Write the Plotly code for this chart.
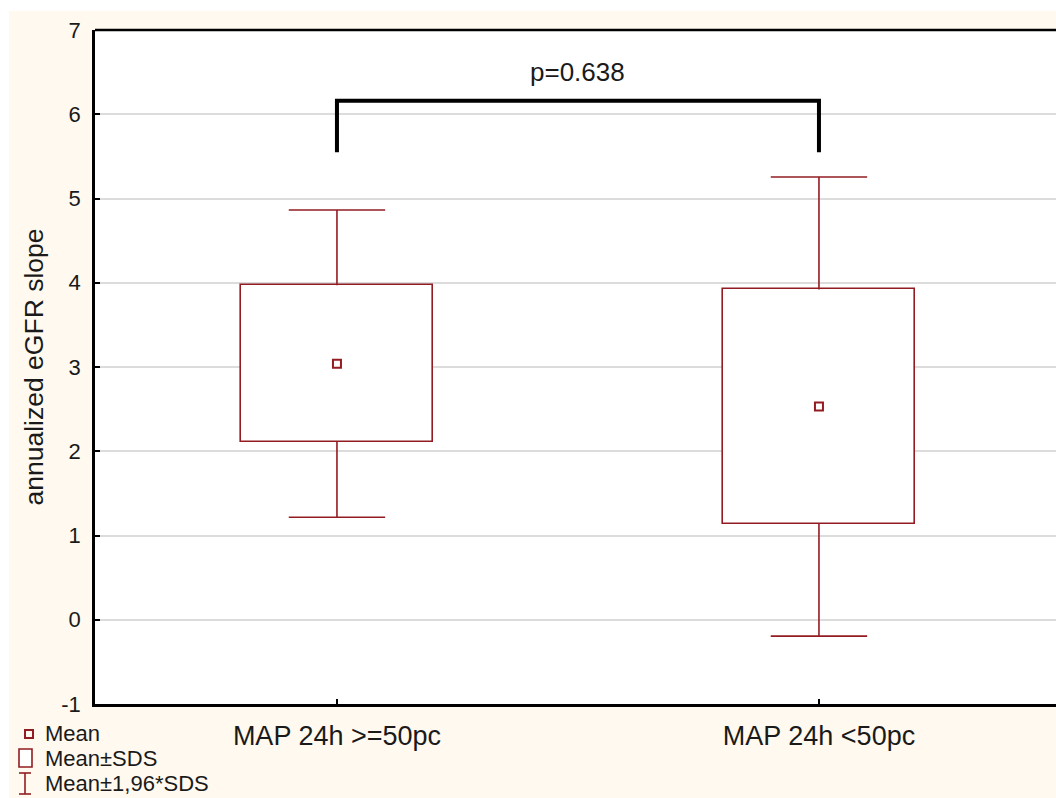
import plotly.graph_objects as go

# ---- data ----
categories = ["MAP 24h >=50pc", "MAP 24h <50pc"]
means = [3.04, 2.53]
sds = [0.93, 1.39]
ci_factor = 1.96
p_text = "p=0.638"
bracket_y_low = 5.55
bracket_y_high = 6.16
p_text_y = 6.5
y_ticks = [-1, 0, 1, 2, 3, 4, 5, 6, 7]
y_ticktext = ["-1", "0", "1", "2", "3", "4", "5", "6", "7"]
legend_labels = ["Mean", "Mean±SDS", "Mean±1,96*SDS"]
y_title = "annualized eGFR slope"

# ---- style ----
W, H = 1056, 798
ML, MR, MT, MB = 95, 0, 30, 94
PW, PH = W - ML - MR, H - MT - MB
RED = "#921C22"
CREAM = "#FFF9EF"
TXT = "#1a1a1a"
FONT = "Liberation Sans, Arial, sans-serif"
BOX_W = 0.4
CAP_HALF = 0.1


def px_x(px):
    return (px - ML) / PW


def px_y(py):
    return (H - MB - py) / PH


xs = list(range(len(categories)))

fig = go.Figure()

# boxes (mean ± SD)
fig.add_trace(go.Bar(
    x=xs,
    base=[m - s for m, s in zip(means, sds)],
    y=[2 * s for s in sds],
    width=BOX_W,
    marker=dict(color="white", line=dict(color=RED, width=1.6)),
    showlegend=False, hoverinfo="skip",
))

# whiskers and caps (mean ± 1.96*SD)
wx, wy = [], []
for x, m, s in zip(xs, means, sds):
    hi, lo = m + ci_factor * s, m - ci_factor * s
    wx += [x, x, None, x, x, None, x - CAP_HALF, x + CAP_HALF, None, x - CAP_HALF, x + CAP_HALF, None]
    wy += [m + s, hi, None, m - s, lo, None, hi, hi, None, lo, lo, None]
fig.add_trace(go.Scatter(x=wx, y=wy, mode="lines", line=dict(color=RED, width=1.6),
                         showlegend=False, hoverinfo="skip"))

# means
fig.add_trace(go.Scatter(x=xs, y=means, mode="markers",
                         marker=dict(symbol="square-open", size=8, color=RED, line=dict(width=2, color=RED)),
                         showlegend=False, hoverinfo="skip"))

# significance bracket
fig.add_trace(go.Scatter(x=[xs[0], xs[0], xs[1], xs[1]],
                         y=[bracket_y_low, bracket_y_high, bracket_y_high, bracket_y_low],
                         mode="lines", line=dict(color="black", width=4),
                         showlegend=False, hoverinfo="skip"))
fig.add_annotation(x=(xs[0] + xs[1]) / 2, y=p_text_y, text=p_text, showarrow=False,
                   font=dict(size=26, color=TXT, family=FONT), yanchor="middle")

shapes = []
# white border strips (outside cream panel)
shapes.append(dict(type="rect", xref="paper", yref="paper", x0=px_x(-20), x1=px_x(9), y0=px_y(H + 20), y1=px_y(-20),
                   fillcolor="white", line=dict(width=0), layer="above"))
shapes.append(dict(type="rect", xref="paper", yref="paper", x0=px_x(-20), x1=px_x(W + 20), y0=px_y(11), y1=px_y(-20),
                   fillcolor="white", line=dict(width=0), layer="above"))
# top border of plot
shapes.append(dict(type="line", xref="paper", yref="paper", x0=0, x1=1, y0=1, y1=1,
                   line=dict(color="black", width=2.5), layer="above"))

# legend drawn manually
shapes.append(dict(type="rect", xref="paper", yref="paper", x0=px_x(25), x1=px_x(33), y0=px_y(738), y1=px_y(730),
                   line=dict(color=RED, width=2), fillcolor="rgba(0,0,0,0)"))
shapes.append(dict(type="rect", xref="paper", yref="paper", x0=px_x(19), x1=px_x(32), y0=px_y(767), y1=px_y(749),
                   line=dict(color=RED, width=1.6), fillcolor="white"))
for (xa, ya, xb, yb) in [(25, 773, 25, 794), (19, 773, 31, 773), (19, 794, 31, 794)]:
    shapes.append(dict(type="line", xref="paper", yref="paper", x0=px_x(xa), x1=px_x(xb), y0=px_y(ya), y1=px_y(yb),
                       line=dict(color=RED, width=1.6)))
for lab, yc in zip(legend_labels, [733, 758, 783]):
    fig.add_annotation(xref="paper", yref="paper", x=px_x(43), y=px_y(yc), text=lab, showarrow=False,
                       xanchor="left", yanchor="middle", font=dict(size=22, color=TXT, family=FONT))

fig.update_layout(
    width=W, height=H,
    margin=dict(l=ML, r=MR, t=MT, b=MB, pad=0),
    paper_bgcolor=CREAM, plot_bgcolor="white",
    font=dict(family=FONT, color=TXT),
    shapes=shapes,
    bargap=0,
    xaxis=dict(range=[-0.502, -0.502 + PW / 482.0], tickvals=xs, ticktext=categories,
               ticks="inside", ticklen=5, tickcolor="black", tickwidth=1.5,
               showgrid=False, zeroline=False, showline=True, linecolor="black", linewidth=2.5,
               tickfont=dict(size=27, color=TXT), ticklabelstandoff=6),
    yaxis=dict(range=[-1, 7], tickvals=y_ticks, ticktext=y_ticktext,
               ticks="inside", ticklen=5, tickcolor="black", tickwidth=1.5,
               showgrid=True, gridcolor="#dcdcdc", gridwidth=1.5, zeroline=False,
               showline=True, linecolor="black", linewidth=2.5,
               tickfont=dict(size=22, color=TXT), ticklabelstandoff=7,
               title=dict(text=y_title, font=dict(size=26.5, color=TXT), standoff=11)),
)

fig.write_html("out.html", config={"displayModeBar": False},
               post_script="document.body.style.margin='0';document.body.style.overflow='hidden';")
